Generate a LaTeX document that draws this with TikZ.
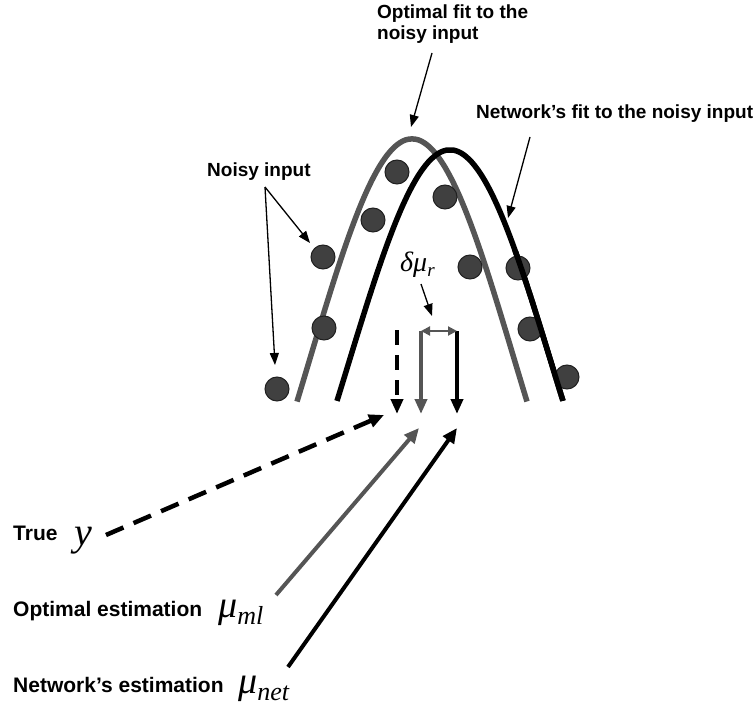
\documentclass[tikz,border=0pt]{standalone}
\usepackage{fontspec}
\setmainfont{Liberation Sans}
\newfontfamily\tms{Liberation Serif}
\usetikzlibrary{arrows.meta}
\definecolor{curvegray}{HTML}{555555}
\definecolor{dotfill}{HTML}{404040}
\definecolor{dotline}{HTML}{202020}
\begin{document}
\begin{tikzpicture}[x=1pt,y=-1pt,
  lbl/.style={font=\bfseries\fontsize{19}{21}\selectfont, inner sep=0pt, align=left},
  lblb/.style={font=\bfseries\fontsize{21}{24}\selectfont, inner sep=0pt, anchor=base west},
  mathlbl/.style={inner sep=0pt, anchor=base west},
  thinarrow/.style={line width=1.3pt, -{Triangle[length=12pt,width=9pt]}},
  bigarrow/.style={line width=4pt, -{Triangle[length=15pt,width=13pt]}},
  vertarrow/.style={line width=4pt, -{Triangle[length=15pt,width=12pt]}},
  dot/.style={circle, fill=dotfill, draw=dotline, line width=1pt, minimum size=24pt, inner sep=0pt},
  fitcurve/.style={line width=5.5pt, samples=90, smooth}
]
\useasboundingbox (0,0) rectangle (756,709);

% curves
\draw[fitcurve, curvegray, domain=-115:115] plot ({412+\x}, {701-562*exp(-(\x/100)*(\x/100)/2.1)});
\draw[fitcurve, black, domain=-113:113] plot ({450+\x}, {701-551*exp(-(\x/100)*(\x/100)/2.1)});

% noisy data points
\node[dot] (p1) at (397,172) {};
\node[dot] (p2) at (373,220) {};
\node[dot] (p3) at (323,257) {};
\node[dot] (p4) at (324,328) {};
\node[dot] (p5) at (277,389) {};
\node[dot] (p6) at (445,197) {};
\node[dot] (p7) at (470,267) {};
\node[dot] (p8) at (518,268) {};
\node[dot] (p9) at (530,329) {};
\node[dot] (p10) at (567,377) {};

% black curve passes over the right-hand dots
\begin{scope}
\clip (505,250) rectangle (585,400);
\draw[fitcurve, black, domain=-113:113] plot ({450+\x}, {701-551*exp(-(\x/100)*(\x/100)/2.1)});
\end{scope}

% top labels
\node[lbl, anchor=north west] (optfit) at (377,5) {Optimal fit to the\\noisy input};
\node[lbl, anchor=base west] (netfit) at (476,119) {Network’s fit to the noisy input};
\node[lbl, anchor=base west] (noisy) at (207,176) {Noisy input};

\coordinate (optA) at (432,53);
\coordinate (optT) at (411,127);
\coordinate (netA) at (530,137);
\coordinate (netT) at (508,218);
\coordinate (noisyA) at (265,187);
\coordinate (noisyT1) at (310,243);
\coordinate (noisyT2) at (275,365);
\draw[thinarrow] (optA) -- (optT);
\draw[thinarrow] (netA) -- (netT);
\draw[thinarrow] (noisyA) -- (noisyT1);
\draw[thinarrow] (noisyA) -- (noisyT2);

% delta mu
\node[mathlbl] (dmu) at (400,271) {\fontsize{28}{28}\selectfont\tms\itshape δμ\raisebox{-0.2em}{\fontsize{19}{19}\selectfont r}};
\coordinate (dmuA) at (421,284);
\coordinate (dmuT) at (432,316);
\draw[thinarrow] (dmuA) -- (dmuT);

% vertical arrows
\coordinate (vd0) at (397,330);
\coordinate (vd1) at (397,414);
\coordinate (vg0) at (421,331);
\coordinate (vg1) at (421,414);
\coordinate (vb0) at (457,331);
\coordinate (vb1) at (457,414);
\draw[vertarrow, dash pattern=on 15pt off 10pt] (vd0) -- (vd1);
\draw[vertarrow, curvegray] (vg0) -- (vg1);
\draw[vertarrow, black] (vb0) -- (vb1);
\draw[curvegray, line width=2pt, {Triangle[length=9pt,width=9pt]}-{Triangle[length=9pt,width=9pt]}] (vg0) -- (vb0);

% bottom labels
\node[lblb] (truet) at (13,540) {True};
\node[mathlbl] (ytrue) at (74,545) {\fontsize{40}{40}\selectfont\tms\itshape y};
\node[lblb] (optest) at (13,616) {Optimal estimation};
\node[mathlbl] (muml) at (218,617) {\fontsize{38}{38}\selectfont\tms\itshape μ\raisebox{-0.2em}{\fontsize{26}{26}\selectfont ml}};
\node[lblb] (netest) at (13,692) {Network’s estimation};
\node[mathlbl] (munet) at (238,693) {\fontsize{38}{38}\selectfont\tms\itshape μ\raisebox{-0.2em}{\fontsize{26}{26}\selectfont net}};

% long arrows
\coordinate (yA) at (106,535);
\coordinate (yT) at (384,415);
\coordinate (mlA) at (276,595);
\coordinate (mlT) at (419,428);
\coordinate (netbA) at (288,667);
\coordinate (netbT) at (457,428);
\draw[bigarrow, line width=4.5pt, dash pattern=on 19pt off 11pt] (yA) -- (yT);
\draw[bigarrow, curvegray] (mlA) -- (mlT);
\draw[bigarrow, black] (netbA) -- (netbT);
\end{tikzpicture}
\end{document}
